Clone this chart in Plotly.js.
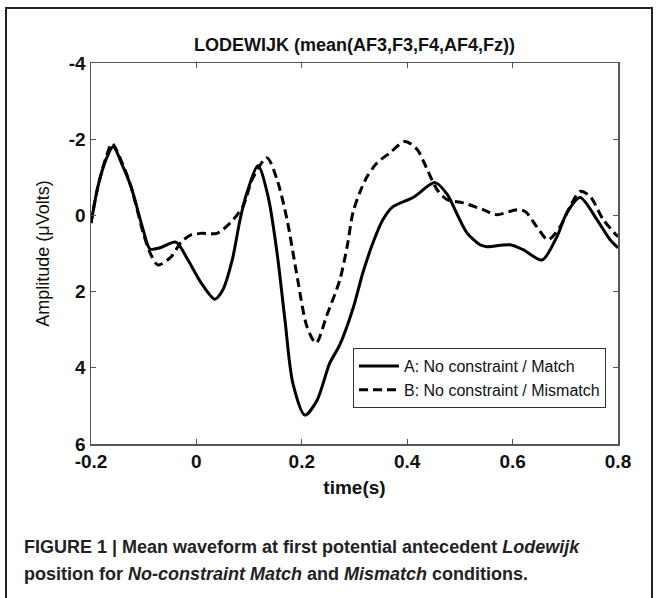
<!DOCTYPE html>
<html>
<head>
<meta charset="utf-8">
<script src="https://cdn.plot.ly/plotly-3.0.1.min.js"></script>
<style>
  html, body { margin: 0; padding: 0; background: #fff; }
  #chart { width: 659px; height: 598px; }
</style>
</head>
<body>
<div id="chart"></div>
<script>
// ---- data ----
const timeA = [-0.2, -0.187, -0.172, -0.158, -0.14, -0.124, -0.101, -0.088, -0.069, -0.039, -0.016, 0.009, 0.035, 0.05, 0.068, 0.083, 0.096, 0.117, 0.136, 0.153, 0.168, 0.183, 0.206, 0.229, 0.253, 0.272, 0.297, 0.316, 0.335, 0.354, 0.373, 0.411, 0.453, 0.476, 0.494, 0.513, 0.538, 0.551, 0.595, 0.62, 0.656, 0.684, 0.703, 0.728, 0.76, 0.785, 0.8];
const ampA  = [0.2, -0.75, -1.45, -1.8, -1.3, -0.75, 0.38, 0.88, 0.85, 0.7, 1.17, 1.77, 2.2, 1.96, 1.17, 0.1, -0.6, -1.3, -0.5, 0.98, 2.74, 4.4, 5.24, 4.85, 3.88, 3.4, 2.45, 1.5, 0.72, 0.11, -0.23, -0.47, -0.86, -0.55, -0.05, 0.45, 0.77, 0.82, 0.77, 0.9, 1.17, 0.56, -0.07, -0.47, 0.11, 0.64, 0.85];

const timeB = [-0.2, -0.187, -0.172, -0.16, -0.14, -0.124, -0.101, -0.088, -0.073, -0.048, -0.029, -0.01, 0.01, 0.039, 0.064, 0.088, 0.107, 0.134, 0.153, 0.172, 0.19, 0.21, 0.227, 0.248, 0.272, 0.286, 0.297, 0.31, 0.324, 0.343, 0.367, 0.396, 0.419, 0.438, 0.457, 0.476, 0.506, 0.544, 0.57, 0.608, 0.624, 0.646, 0.667, 0.69, 0.709, 0.728, 0.747, 0.772, 0.8];
const ampB  = [0.2, -0.75, -1.5, -1.89, -1.35, -0.75, 0.45, 0.98, 1.3, 1.09, 0.7, 0.51, 0.47, 0.47, 0.2, -0.23, -0.98, -1.51, -0.94, 0.11, 1.51, 2.93, 3.35, 2.6, 1.7, 0.82, -0.07, -0.6, -1.02, -1.38, -1.64, -1.94, -1.73, -1.2, -0.67, -0.41, -0.33, -0.15, -0.02, -0.15, -0.1, 0.3, 0.64, 0.3, -0.23, -0.63, -0.5, 0.11, 0.56];

const seriesNames = ["A: No constraint / Match", "B: No constraint / Mismatch"];
const xTickVals = [-0.2, 0, 0.2, 0.4, 0.6, 0.8];
const xTickText = ["-0.2", "0", "0.2", "0.4", "0.6", "0.8"];
const yTickVals = [-4, -2, 0, 2, 4, 6];
const yTickText = ["-4", "-2", "0", "2", "4", "6"];

const chartTitle = "LODEWIJK (mean(AF3,F3,F4,AF4,Fz))";
const xTitle = "time(s)";
const yTitle = "Amplitude (\u03bcVolts)";
const captionLine1 = "<b>FIGURE 1 | Mean waveform at first potential antecedent <i>Lodewijk</i></b>";
const captionLine2 = "<b>position for <i>No-constraint Match</i> and <i>Mismatch</i> conditions.</b>";

// ---- chart ----
const narrow = "Liberation Sans Narrow, Arial Narrow, Liberation Sans, Arial, sans-serif";
const sans = "Liberation Sans, Arial, Helvetica, sans-serif";

const traces = [
  { x: timeA, y: ampA, name: seriesNames[0], mode: "lines",
    line: { color: "#000", width: 3, shape: "spline", smoothing: 0.8 } },
  { x: timeB, y: ampB, name: seriesNames[1], mode: "lines",
    line: { color: "#000", width: 3, dash: "9px,5px", shape: "spline", smoothing: 0.8 } }
];

const axisCommon = {
  showgrid: false, zeroline: false, showline: true, linecolor: "#555", linewidth: 1.5,
  mirror: "ticks", ticks: "inside", ticklen: 5, tickcolor: "#555", tickwidth: 1,
  tickfont: { family: sans, size: 19, color: "#111", weight: "bold" }
};

const layout = {
  width: 659, height: 598,
  margin: { l: 91, r: 41, t: 63, b: 154 },
  paper_bgcolor: "#fff", plot_bgcolor: "#fff",
  showlegend: true,
  title: { text: chartTitle, x: 0.5, xref: "paper", xanchor: "center",
           y: 1 - 45 / 598, yref: "container", yanchor: "middle",
           font: { family: narrow, size: 18, color: "#111", weight: "bold" } },
  xaxis: Object.assign({}, axisCommon, {
    range: [-0.2, 0.8], tickvals: xTickVals, ticktext: xTickText,
    title: { text: xTitle, standoff: 9, font: { family: narrow, size: 19, color: "#111", weight: "bold" } }
  }),
  yaxis: Object.assign({}, axisCommon, {
    range: [6, -4], tickvals: yTickVals, ticktext: yTickText,
    title: { text: yTitle, standoff: 14, font: { family: sans, size: 18, color: "#111" } }
  }),
  legend: {
    x: (353 - 91) / 527, xanchor: "left", y: (444 - 348) / 381, yanchor: "top",
    bgcolor: "#fff", bordercolor: "#333", borderwidth: 1,
    font: { family: sans, size: 16, color: "#111" },
    tracegroupgap: 0, itemwidth: 40
  },
  shapes: [
    { type: "rect", xref: "paper", yref: "paper",
      x0: (6 - 91) / 527, x1: (652 - 91) / 527,
      y0: (444 - 600) / 381, y1: (444 - 8) / 381,
      line: { color: "#222", width: 2 }, fillcolor: "rgba(0,0,0,0)" }
  ],
  annotations: [
    { text: captionLine1, xref: "paper", yref: "paper", showarrow: false,
      x: (22 - 91) / 527, xanchor: "left", y: (444 - 547) / 381, yanchor: "middle",
      font: { family: sans, size: 18, color: "#222" } },
    { text: captionLine2, xref: "paper", yref: "paper", showarrow: false,
      x: (22 - 91) / 527, xanchor: "left", y: (444 - 574) / 381, yanchor: "middle",
      font: { family: sans, size: 18, color: "#222" } }
  ]
};

Plotly.newPlot("chart", traces, layout, { displayModeBar: false, staticPlot: true });
</script>
</body>
</html>
